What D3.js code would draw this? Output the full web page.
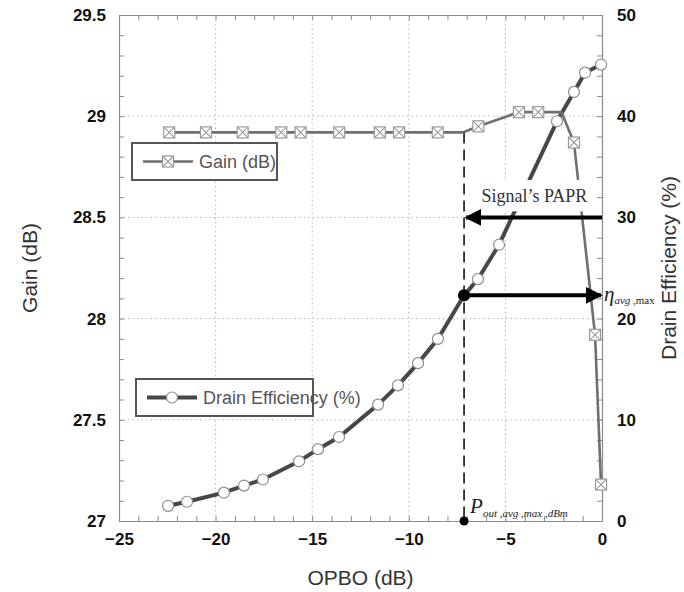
<!DOCTYPE html>
<html>
<head>
<meta charset="utf-8">
<script src="https://cdn.jsdelivr.net/npm/d3@7"></script>
<style>
body { margin: 0; background: #fff; }
svg { display: block; }
</style>
</head>
<body>
<svg id="chart"></svg>
<script>
// gain curve (dB) vs output power back-off
var gainOpbo = [-22.4, -20.5, -18.6, -16.6, -15.6, -13.6, -11.5, -10.5, -8.5, -7.2, -6.4, -4.3, -3.3, -2.1, -1.45, -0.36, -0.05];
var gainDb   = [28.92, 28.92, 28.92, 28.92, 28.92, 28.92, 28.92, 28.92, 28.92, 28.92, 28.95, 29.02, 29.02, 29.02, 28.87, 27.92, 27.18];
var gainMark = [1, 1, 1, 1, 1, 1, 1, 1, 1, 0, 1, 1, 1, 0, 1, 1, 1];

// drain efficiency (%)
var effOpbo = [-22.46, -21.48, -19.57, -18.53, -17.55, -15.68, -14.7, -13.61, -11.59, -10.56, -9.52, -8.49, -7.14, -6.42, -5.33, -2.33, -1.45, -0.88, -0.05];
var effPct  = [1.5, 1.9, 2.8, 3.5, 4.1, 5.9, 7.1, 8.3, 11.5, 13.4, 15.6, 18.0, 22.3, 23.9, 27.3, 39.5, 42.4, 44.3, 45.1];

var xTicks = [-25, -20, -15, -10, -5, 0];
var gainTicks = [27, 27.5, 28, 28.5, 29, 29.5];
var effTicks = [0, 10, 20, 30, 40, 50];

// annotation values
var paprOpbo = -7.14;
var paprLevel = 30;
var etaAvgMax = 22.3;

var screen = {width: 684, height: 592};
var m = {left: 119, right: 82, top: 15, bottom: 71};
var w = screen.width - m.left - m.right;
var h = screen.height - m.top - m.bottom;

var svg = d3.select("#chart")
    .attr("width", screen.width)
    .attr("height", screen.height);

var g = svg.append("g").attr("transform", "translate(" + m.left + "," + m.top + ")");

var xscale = d3.scaleLinear().domain([-25, 0]).range([0, w]);
var yGain = d3.scaleLinear().domain([27, 29.5]).range([h, 0]);
var yEff = d3.scaleLinear().domain([0, 50]).range([h, 0]);

var axisCol = "#8a8a8a";

// grid
g.selectAll(".vgrid").data(xTicks.slice(1, -1)).enter().append("line")
    .attr("x1", function(d) { return xscale(d); })
    .attr("x2", function(d) { return xscale(d); })
    .attr("y1", 0).attr("y2", h)
    .attr("stroke", "#b5b5b5").attr("stroke-width", 1).attr("stroke-dasharray", "1.5,3");
g.selectAll(".hgrid").data(gainTicks.slice(1, -1)).enter().append("line")
    .attr("y1", function(d) { return yGain(d); })
    .attr("y2", function(d) { return yGain(d); })
    .attr("x1", 0).attr("x2", w)
    .attr("stroke", "#b5b5b5").attr("stroke-width", 1).attr("stroke-dasharray", "1.5,3");

// axes with inward ticks
var tickFont = function(sel) {
    sel.selectAll("text")
        .attr("font-family", "'Liberation Sans', Arial, sans-serif")
        .attr("font-weight", "bold")
        .attr("font-size", "17px")
        .attr("fill", "#111");
    sel.select(".domain").attr("stroke", axisCol).attr("stroke-width", 1.2);
    sel.selectAll(".tick line").attr("stroke", axisCol);
};

var xMinor = d3.range(-25, 0.5, 1);
g.append("g").attr("transform", "translate(0," + h + ")")
    .call(d3.axisBottom(xscale).tickValues(xMinor).tickSize(-5).tickSizeOuter(0)
        .tickFormat(function(d) { return d % 5 === 0 ? d3.format("")(d).replace("-", "\u2013") : ""; }))
    .call(tickFont)
    .call(function(s) { s.selectAll("text").attr("dy", "1.25em"); });
g.append("g")
    .call(d3.axisTop(xscale).tickValues(xMinor).tickSize(-5).tickSizeOuter(0).tickFormat(""))
    .call(tickFont);

var gMinor = d3.range(27, 29.55, 0.1).map(function(d) { return Math.round(d * 10) / 10; });
g.append("g")
    .call(d3.axisLeft(yGain).tickValues(gMinor).tickSize(-5).tickSizeOuter(0)
        .tickFormat(function(d) { return gainTicks.indexOf(d) >= 0 ? d : ""; }))
    .call(tickFont)
    .call(function(s) { s.selectAll("text").attr("x", -13); });

var eMinor = d3.range(0, 51, 2);
g.append("g").attr("transform", "translate(" + w + ",0)")
    .call(d3.axisRight(yEff).tickValues(eMinor).tickSize(-5).tickSizeOuter(0)
        .tickFormat(function(d) { return effTicks.indexOf(d) >= 0 ? d : ""; }))
    .call(tickFont)
    .call(function(s) { s.selectAll("text").attr("x", 15); });

// axis titles
var titleFont = function(sel) {
    sel.attr("font-family", "'Liberation Sans', Arial, sans-serif")
        .attr("font-size", "21px")
        .attr("fill", "#333")
        .attr("text-anchor", "middle");
};
svg.append("text").text("OPBO (dB)").attr("x", m.left + w / 2).attr("y", 585).call(titleFont);
svg.append("text").text("Gain (dB)")
    .attr("transform", "translate(37," + (m.top + h / 2) + ") rotate(-90)").call(titleFont);
svg.append("text").text("Drain Efficiency (%)")
    .attr("transform", "translate(676," + (m.top + h / 2) + ") rotate(-90)").call(titleFont);

// series
var gainPts = gainOpbo.map(function(x, i) { return {x: x, y: gainDb[i], mark: gainMark[i]}; });
var effPts = effOpbo.map(function(x, i) { return {x: x, y: effPct[i]}; });

// dashed line at max average output power
g.append("line")
    .attr("x1", xscale(paprOpbo)).attr("x2", xscale(paprOpbo))
    .attr("y1", yGain(28.92)).attr("y2", h)
    .attr("stroke", "#111").attr("stroke-width", 1.6).attr("stroke-dasharray", "11,6");

g.append("path")
    .datum(effPts)
    .attr("fill", "none")
    .attr("stroke", "#474747")
    .attr("stroke-width", 4)
    .attr("d", d3.line().x(function(d) { return xscale(d.x); }).y(function(d) { return yEff(d.y); }));

g.append("path")
    .datum(gainPts)
    .attr("fill", "none")
    .attr("stroke", "#6f6f6f")
    .attr("stroke-width", 2.6)
    .attr("d", d3.line().x(function(d) { return xscale(d.x); }).y(function(d) { return yGain(d.y); }));

var drawSquare = function(sel) {
    sel.append("rect").attr("x", -5.5).attr("y", -5.5).attr("width", 11).attr("height", 11)
        .attr("fill", "#fff").attr("stroke", "#9a9a9a").attr("stroke-width", 1.2);
    sel.append("path").attr("d", "M-5,-5L5,5M5,-5L-5,5")
        .attr("stroke", "#9a9a9a").attr("stroke-width", 1.1);
};
var drawCircle = function(sel) {
    sel.append("circle").attr("r", 5.5)
        .attr("fill", "#fff").attr("stroke", "#8f8f8f").attr("stroke-width", 1.2);
};

g.selectAll(".effm").data(effPts).enter().append("g")
    .attr("transform", function(d) { return "translate(" + xscale(d.x) + "," + yEff(d.y) + ")"; })
    .call(drawCircle);

g.selectAll(".gainm").data(gainPts.filter(function(d) { return d.mark; })).enter().append("g")
    .attr("transform", function(d) { return "translate(" + xscale(d.x) + "," + yGain(d.y) + ")"; })
    .call(drawSquare);

// Signal's PAPR label with white box behind
var serif = "'Liberation Serif', 'Times New Roman', serif";
g.append("rect")
    .attr("x", xscale(-6.4)).attr("y", yEff(33.7))
    .attr("width", xscale(-0.45) - xscale(-6.4)).attr("height", yEff(30.6) - yEff(33.7))
    .attr("fill", "#fff");
g.append("text").text("Signal\u2019s PAPR")
    .attr("x", xscale(-3.5)).attr("y", yEff(31.5))
    .attr("text-anchor", "middle")
    .attr("font-family", serif).attr("font-size", "18px").attr("fill", "#333");

// arrows
var defs = svg.append("defs");
defs.append("marker").attr("id", "arr")
    .attr("viewBox", "0 0 10 10").attr("refX", 9).attr("refY", 5)
    .attr("markerWidth", 4.2).attr("markerHeight", 4.2)
    .attr("markerUnits", "strokeWidth")
    .attr("orient", "auto")
    .append("path").attr("d", "M0,0L10,5L0,10z").attr("fill", "#000");

g.append("line")
    .attr("x1", xscale(0)).attr("x2", xscale(paprOpbo) + 2)
    .attr("y1", yEff(paprLevel)).attr("y2", yEff(paprLevel))
    .attr("stroke", "#000").attr("stroke-width", 4).attr("marker-end", "url(#arr)");

g.append("line")
    .attr("x1", xscale(paprOpbo)).attr("x2", xscale(0) - 1)
    .attr("y1", yEff(etaAvgMax)).attr("y2", yEff(etaAvgMax))
    .attr("stroke", "#000").attr("stroke-width", 4).attr("marker-end", "url(#arr)");

g.append("circle").attr("cx", xscale(paprOpbo)).attr("cy", yEff(etaAvgMax)).attr("r", 6).attr("fill", "#000");
g.append("circle").attr("cx", xscale(paprOpbo)).attr("cy", h).attr("r", 4.5).attr("fill", "#000");

// eta label
var eta = g.append("text")
    .attr("x", w + 2).attr("y", yEff(etaAvgMax) + 6)
    .attr("font-family", serif).attr("fill", "#222");
eta.append("tspan").text("\u03b7").attr("font-style", "italic").attr("font-size", "21px");
eta.append("tspan").text("avg").attr("font-style", "italic").attr("font-size", "11px").attr("dy", 3);
eta.append("tspan").text(" ,max").attr("font-size", "11px");

// P label
var pl = g.append("text")
    .attr("x", xscale(paprOpbo) + 6).attr("y", h - 8)
    .attr("font-family", serif).attr("fill", "#222");
pl.append("tspan").text("P").attr("font-style", "italic").attr("font-size", "21px");
pl.append("tspan").text("out ,avg ,max ,dBm").attr("font-style", "italic").attr("font-size", "11px").attr("dy", 4);

// legends
var legend = function(x, y, bw, label, drawMark, col, sw) {
    var lg = svg.append("g").attr("transform", "translate(" + x + "," + y + ")");
    lg.append("rect").attr("width", bw).attr("height", 37)
        .attr("fill", "#fff").attr("stroke", "#555").attr("stroke-width", 2);
    lg.append("line").attr("x1", 11).attr("x2", 61).attr("y1", 18.5).attr("y2", 18.5)
        .attr("stroke", col).attr("stroke-width", sw);
    lg.append("g").attr("transform", "translate(36,18.5)").call(drawMark);
    lg.append("text").text(label).attr("x", 67).attr("y", 25)
        .attr("font-family", "'Liberation Sans', Arial, sans-serif")
        .attr("font-size", "18px").attr("fill", "#555");
};
legend(132, 143, 145, "Gain (dB)", drawSquare, "#6f6f6f", 2.6);
legend(136, 379, 177, "Drain Efficiency (%)", drawCircle, "#474747", 4);
</script>
</body>
</html>
